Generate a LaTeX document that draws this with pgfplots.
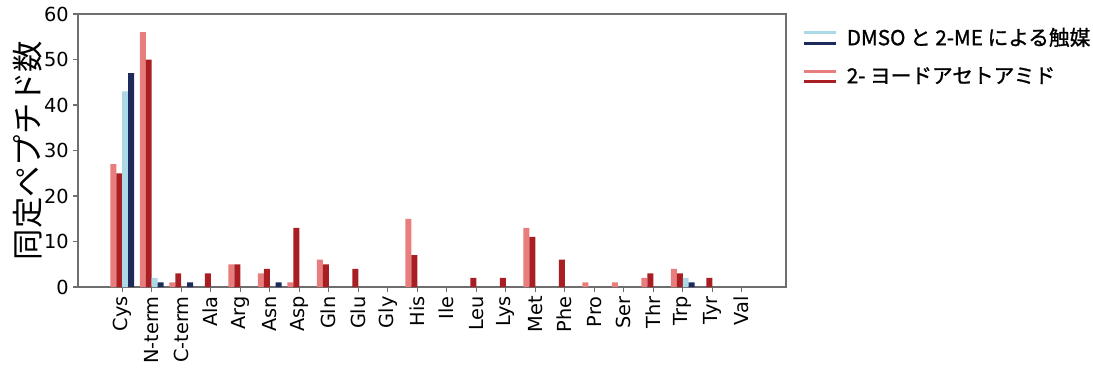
\documentclass[border=0pt]{standalone}
\usepackage{fontspec}
\setmainfont{DejaVu Sans}
\newfontfamily\cjk{Noto Sans CJK JP}
\newfontfamily\cjkb{Noto Sans CJK JP}[FakeBold=1.2]
\usepackage{pgfplots}
\pgfplotsset{compat=1.18}
\definecolor{lr}{RGB}{231,125,125}
\definecolor{dr}{RGB}{168,30,35}
\definecolor{lb}{RGB}{173,216,230}
\definecolor{db}{RGB}{30,42,90}
\definecolor{ax}{RGB}{110,110,110}
\pgfplotsset{
 dualblue/.style={legend image code/.code={
   \draw[line width=2.4pt, lb] (0pt,3.8pt) -- (24pt,3.8pt);
   \draw[line width=2.4pt, db] (0pt,-4.2pt) -- (24pt,-4.2pt);}},
 dualred/.style={legend image code/.code={
   \draw[line width=2.4pt, lr] (0pt,3.8pt) -- (24pt,3.8pt);
   \draw[line width=2.4pt, dr] (0pt,-4.2pt) -- (24pt,-4.2pt);}},
}
\begin{document}
\begin{tikzpicture}
\useasboundingbox (0,0) rectangle (819.75pt,282pt);
\begin{axis}[
  at={(58.5pt,66.75pt)}, anchor=south west,
  scale only axis, width=531pt, height=204.75pt,
  xmin=-1.5, xmax=22.5, ymin=0, ymax=60,
  xtick={0,...,21},
  xticklabels={Cys,N-term,C-term,Ala,Arg,Asn,Asp,Gln,Glu,Gly,His,Ile,Leu,Lys,Met,Phe,Pro,Ser,Thr,Trp,Tyr,Val},
  ytick={0,10,...,60},
  xtick pos=bottom, ytick pos=left,
  tick align=outside, major tick length=3.5pt,
  tick style={ax, line width=0.8pt},
  axis line style={ax, line width=0.9pt},
  /pgf/number format/assume math mode=true,
  tick label style={font=\fontsize{14.5}{16}\selectfont},
  x tick label style={rotate=90, anchor=east},
  ylabel={\cjk 同定ペプチド数},
  ylabel style={font=\fontsize{23.5}{26}\selectfont, at={(axis description cs:-0.0706,0.5)}, rotate=0, anchor=center},
  bar width=0.2,
  legend style={at={(1.0226,0.96)}, anchor=north west, draw=none, fill=none,
    font=\cjkb\fontsize{15.5}{18}\selectfont, row sep=11pt, column sep=5pt, inner sep=0pt,
    cells={anchor=west}},
]
\addplot[ybar, bar shift=-0.3, fill=lr, draw=none, forget plot] coordinates {
 (0,27) (1,56) (2,1) (4,5) (5,3) (6,1) (7,6) (10,15) (14,13) (16,1) (17,1) (18,2) (19,4)};
\addplot[ybar, bar shift=-0.1, fill=dr, draw=none, forget plot] coordinates {
 (0,25) (1,50) (2,3) (3,3) (4,5) (5,4) (6,13) (7,5) (8,4) (10,7) (12,2) (13,2) (14,11) (15,6) (18,3) (19,3) (20,2)};
\addplot[ybar, bar shift=0.1, fill=lb, draw=none, forget plot] coordinates {
 (0,43) (1,2) (19,2)};
\addplot[ybar, bar shift=0.3, fill=db, draw=none, forget plot] coordinates {
 (0,47) (1,1) (2,1) (5,1) (19,1)};
\addlegendimage{dualblue}
\addlegendentry{DMSO と 2-ME による触媒}
\addlegendimage{dualred}
\addlegendentry{2- ヨードアセトアミド}
\end{axis}
\end{tikzpicture}
\end{document}
